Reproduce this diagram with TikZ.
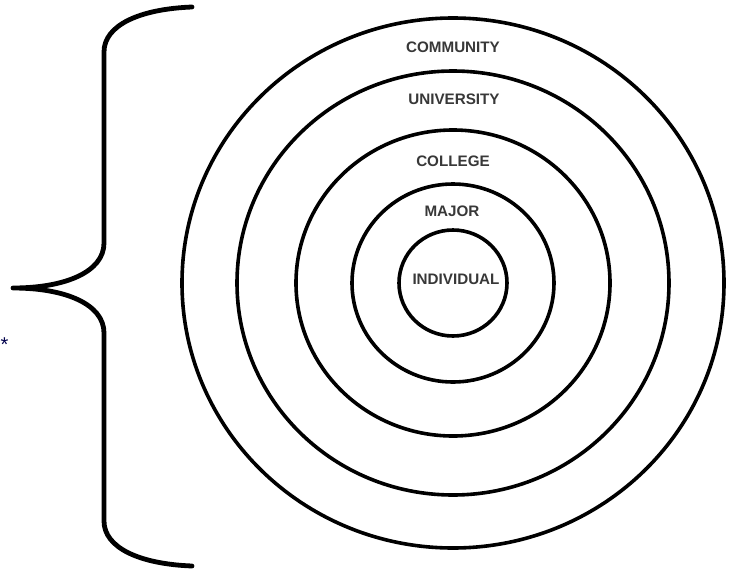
\documentclass[tikz,border=0pt]{standalone}
\usepackage{fontspec}
\setmainfont{Liberation Sans}
\begin{document}
\begin{tikzpicture}[x=1pt,y=-1pt,
  ring/.style={draw=black,line width=3.6pt},
  lbl/.style={font=\fontsize{15.2}{18}\selectfont\bfseries,text=black!78,inner sep=0pt},
  bracepath/.style={draw=black,line width=4.8pt,line cap=round,line join=round}]
\useasboundingbox[fill=white] (0,0) rectangle (731,573);
\coordinate (c) at (453,283);
\draw[ring] (c) ellipse [x radius=271, y radius=265];
\draw[ring] (c) ellipse [x radius=216, y radius=212];
\draw[ring] (c) ellipse [x radius=157, y radius=153];
\draw[ring] (c) ellipse [x radius=101, y radius=99];
\draw[ring] (c) ellipse [x radius=54, y radius=53];
\node[lbl] (community) at (453,47) {COMMUNITY};
\node[lbl] (university) at (454,99) {UNIVERSITY};
\node[lbl] (college) at (453,161) {COLLEGE};
\node[lbl] (major) at (452,211) {MAJOR};
\node[lbl] (individual) at (456,279) {INDIVIDUAL};
\coordinate (btop) at (192,7);
\coordinate (btip) at (13,288);
\coordinate (bbot) at (192,566);
\draw[bracepath] (btop) .. controls (140,9) and (104,25) .. (104,52)
  -- (104,243) .. controls (104,272) and (65,288) .. (btip)
  .. controls (65,288) and (104,304) .. (104,333)
  -- (104,521) .. controls (104,548) and (140,564) .. (bbot);
\node[font=\fontsize{20}{20}\selectfont,text=black!70!blue,inner sep=0pt,anchor=north west] (star) at (0.5,338) {*};
\end{tikzpicture}
\end{document}
